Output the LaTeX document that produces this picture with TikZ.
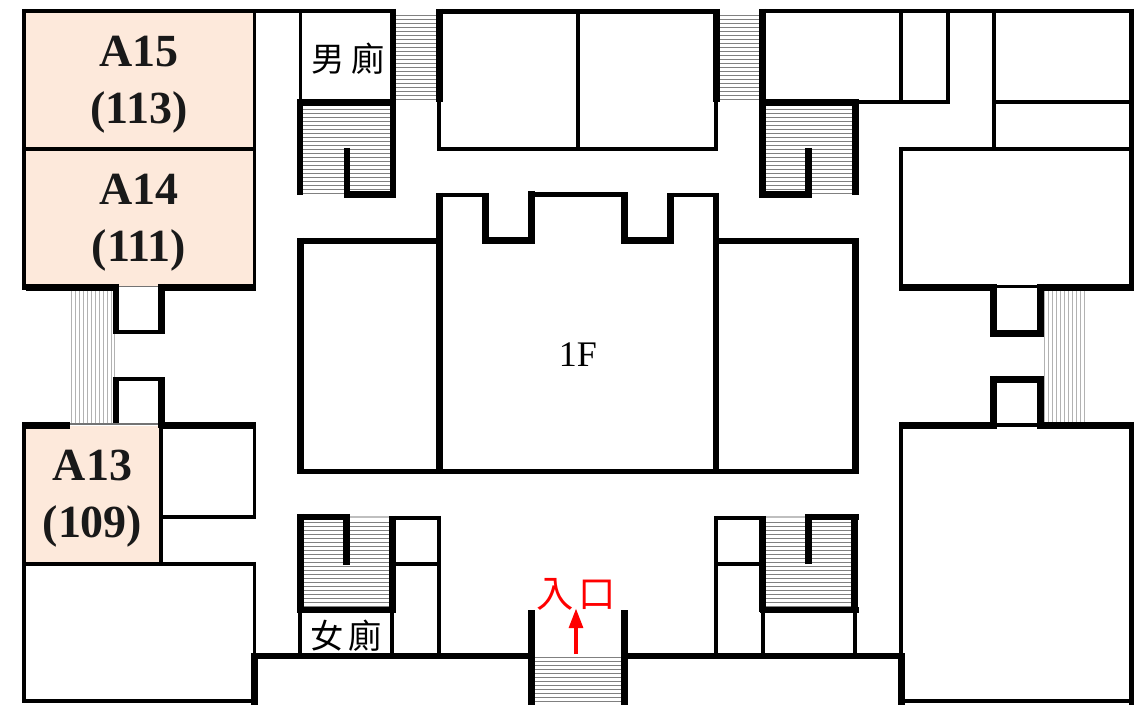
\documentclass[tikz,border=0pt]{standalone}
\usepackage{fontspec}
\setmainfont{Liberation Serif}
\newfontfamily\cjk{Noto Sans CJK TC}
\usetikzlibrary{arrows.meta}
\definecolor{roomfill}{HTML}{FDE9DB}
\tikzset{
  wa/.style={draw=black,line width=3.4pt},
  wb/.style={draw=black,line width=5.2pt},
  wc/.style={draw=black,line width=4.3pt},
  wt/.style={draw=black,line width=2.5pt},
  wf/.style={draw=black!55,line width=1.2pt},
  hatchh/.style={draw=black!50,line width=0.6pt},
  hatchv/.style={draw=black!30,line width=0.55pt},
  room/.style={fill=roomfill,draw=none},
  roomlabel/.style={font=\bfseries\fontsize{34.5}{42.75}\selectfont,align=center,inner sep=0pt,text=black!90},
  wclabel/.style={font=\cjk\fontsize{25}{25}\selectfont,inner sep=0pt},
  entrylabel/.style={font=\cjk\fontsize{28}{28}\selectfont,inner sep=0pt,text=red},
  floorlabel/.style={font=\fontsize{27}{27}\selectfont,inner sep=0pt}
}
\begin{document}
\begin{tikzpicture}[x=0.75pt,y=-0.75pt]
\useasboundingbox (0,0) rectangle (1139,705);
% room fills
\path[room] (24,11) rectangle (254,287);
\path[room] (24,426) rectangle (161,564);
% stair treads
\foreach \y in {15,19,...,102} {\draw[hatchh] (396,\y) -- (437,\y); \draw[hatchh] (720,\y) -- (760,\y);}
\foreach \y in {109,113,...,193} {\draw[hatchh] (303,\y) -- (390,\y); \draw[hatchh] (766,\y) -- (852,\y);}
\foreach \y in {522,526,...,606} {\draw[hatchh] (304,\y) -- (389,\y); \draw[hatchh] (766,\y) -- (852,\y);}
\foreach \y in {657,661,...,705} {\draw[hatchh] (535,\y) -- (621,\y);}
\foreach \x in {71,75,...,111} {\draw[hatchv] (\x,291) -- (\x,423);}
\draw[hatchv] (114.5,333) -- (114.5,378);
\foreach \x in {1044,1048,...,1087} {\draw[hatchv] (\x,291) -- (\x,423);}
\draw[draw=black!25,line width=0.8pt] (350,517) -- (389,517);
\draw[draw=black!25,line width=0.8pt] (766,517) -- (805,517);
% upper-left rooms
\draw[wa] (24,9) -- (24,290);
\draw[wa] (22,11) -- (396,11);
\draw[wa] (22,149) -- (256,149);
\draw[wt] (254.5,11) -- (254.5,287);
\draw[wb] (26,287.5) -- (119,287.5);
\draw[wb] (158,287.5) -- (256,287.5);
\draw[wf] (119,286.5) -- (158,286.5);
\draw[wb] (116,284) -- (116,334);
\draw[wb] (161.5,284) -- (161.5,334);
\draw[wa] (113,332) -- (165,332);
% mens room and stair
\draw[wt] (300.5,11) -- (300.5,100);
\draw[wb] (393,9) -- (393,197);
\draw[wb] (297,102.5) -- (396,102.5);
\draw[wb] (300,99) -- (300,195);
\draw[wb] (347,148) -- (347,197);
\draw[wb] (344,194.5) -- (396,194.5);
% top centre block
\draw[wb] (439.5,9) -- (439.5,102);
\draw[wa] (439,102) -- (439,151);
\draw[wa] (436,11.5) -- (720,11.5);
\draw[wb] (716.5,9) -- (716.5,102);
\draw[wa] (716,102) -- (716,151);
\draw[wa] (437,149) -- (718,149);
\draw[wa] (578,11) -- (578,149);
% centre big block
\draw[wb] (439.5,193) -- (439.5,474);
\draw[wa] (436,195) -- (489,195);
\draw[wb] (485.5,193) -- (485.5,244);
\draw[wb] (482,240.5) -- (535,240.5);
\draw[wb] (531.5,191) -- (531.5,244);
\draw[wa] (528,194.5) -- (628,194.5);
\draw[wb] (624.5,193) -- (624.5,244);
\draw[wb] (621,240.5) -- (674,240.5);
\draw[wb] (670.5,193) -- (670.5,244);
\draw[wa] (667,195) -- (719,195);
\draw[wb] (716,193) -- (716,474);
% side blocks
\draw[wb] (300.5,238) -- (300.5,474);
\draw[wb] (297,241) -- (437,241);
\draw[wa] (297,471.5) -- (859,471.5);
\draw[wb] (719,241) -- (859,241);
\draw[wb] (855.5,238) -- (855.5,474);
% lower-left
\draw[wb] (116,378) -- (116,424);
\draw[wb] (161.5,378) -- (161.5,428);
\draw[wt] (113,379) -- (165,379);
\draw[wb] (22,425.5) -- (70,425.5);
\draw[wf] (70,424) -- (158,424);
\draw[wb] (161,425.5) -- (256,425.5);
\draw[wa] (161,426) -- (161,564);
\draw[wa] (22,564) -- (256,564);
\draw[wt] (254.5,426) -- (254.5,519);
\draw[wa] (161,517) -- (256,517);
\draw[wa] (24,423) -- (24,703);
\draw[wt] (254.5,562) -- (254.5,655);
\draw[wb] (254.5,653) -- (254.5,705);
\draw[wa] (22,701) -- (258,701);
% corridor
\draw[wc] (256,656) -- (530,656);
\draw[wc] (626,656) -- (903,656);
% womens room and stair
\draw[wb] (300.5,514) -- (300.5,612);
\draw[wb] (297,517) -- (350,517);
\draw[wb] (346.5,514) -- (346.5,565);
\draw[wb] (392.5,516) -- (392.5,612);
\draw[wb] (297,610) -- (396,610);
\draw[wa] (396,518) -- (441,518);
\draw[wa] (439,516) -- (439,656);
\draw[wa] (396,564) -- (439,564);
\draw[wt] (300,612) -- (300,655);
\draw[wt] (392,612) -- (392,655);
% entrance
\draw[wb] (531.5,610) -- (531.5,705);
\draw[wb] (624.5,610) -- (624.5,705);
% upper right
\draw[wb] (762.5,9) -- (762.5,198);
\draw[wa] (759,11) -- (1134,11);
\draw[wb] (759,102.5) -- (859,102.5);
\draw[wb] (855.5,99) -- (855.5,195);
\draw[wb] (759,194.5) -- (812,194.5);
\draw[wb] (808.5,148) -- (808.5,198);
\draw[wa] (859,102) -- (950,102);
\draw[wa] (901,11) -- (901,102);
\draw[wa] (948,11) -- (948,104);
\draw[wa] (994,11) -- (994,149);
\draw[wa] (994,102) -- (1133,102);
\draw[wa] (1131.5,9) -- (1131.5,290);
\draw[wa] (899,149) -- (1133,149);
\draw[wa] (901,147) -- (901,291);
\draw[wb] (899,287.5) -- (997,287.5);
\draw[wb] (1037,287.5) -- (1134,287.5);
\draw[wt] (997,286.5) -- (1037,286.5);
\draw[wb] (993.5,284) -- (993.5,337);
\draw[wb] (1040.5,284) -- (1040.5,337);
\draw[wb] (990,333.5) -- (1044,333.5);
% lower right
\draw[wb] (993.5,376) -- (993.5,429);
\draw[wb] (1040.5,376) -- (1040.5,429);
\draw[wb] (990,379.5) -- (1044,379.5);
\draw[wb] (899,425.5) -- (997,425.5);
\draw[wb] (1037,425.5) -- (1134,425.5);
\draw[wt] (997,425) -- (1037,425);
\draw[wa] (901,422) -- (901,656);
\draw[wb] (901.5,653) -- (901.5,705);
\draw[wa] (1131.5,422) -- (1131.5,705);
\draw[wa] (898,701) -- (1134,701);
\draw[wa] (716,516) -- (716,656);
\draw[wa] (714,518) -- (762,518);
\draw[wa] (716,564) -- (760,564);
\draw[wb] (762.5,516) -- (762.5,612);
\draw[wb] (760,610) -- (859,610);
\draw[wb] (805,517) -- (859,517);
\draw[wb] (808.5,514) -- (808.5,564);
\draw[wb] (854.5,514) -- (854.5,610);
\draw[wt] (763,612) -- (763,655);
\draw[wt] (855,612) -- (855,655);
% labels
\node[roomlabel] (a15) at (139,85) {A15\\(113)};
\node[roomlabel] (a14) at (139,223) {A14\\(111)};
\node[roomlabel] (a13) at (92.5,499) {A13\\(109)};
\node[floorlabel] (floor) at (578,355) {1F};
\node[wclabel] (men) at (348,59) {男\hspace{5pt}廁};
\node[wclabel] (women) at (346,636) {女\hspace{3pt}廁};
\node[entrylabel] (entry) at (576,594) {入\hspace{4pt}口};
\coordinate (arrowfoot) at (576,654);
\coordinate (arrowtip) at (576,608);
\draw[draw=red,line width=3.4pt,-{Triangle[length=15pt,width=10pt]}] (arrowfoot) -- (arrowtip);
\end{tikzpicture}
\end{document}
